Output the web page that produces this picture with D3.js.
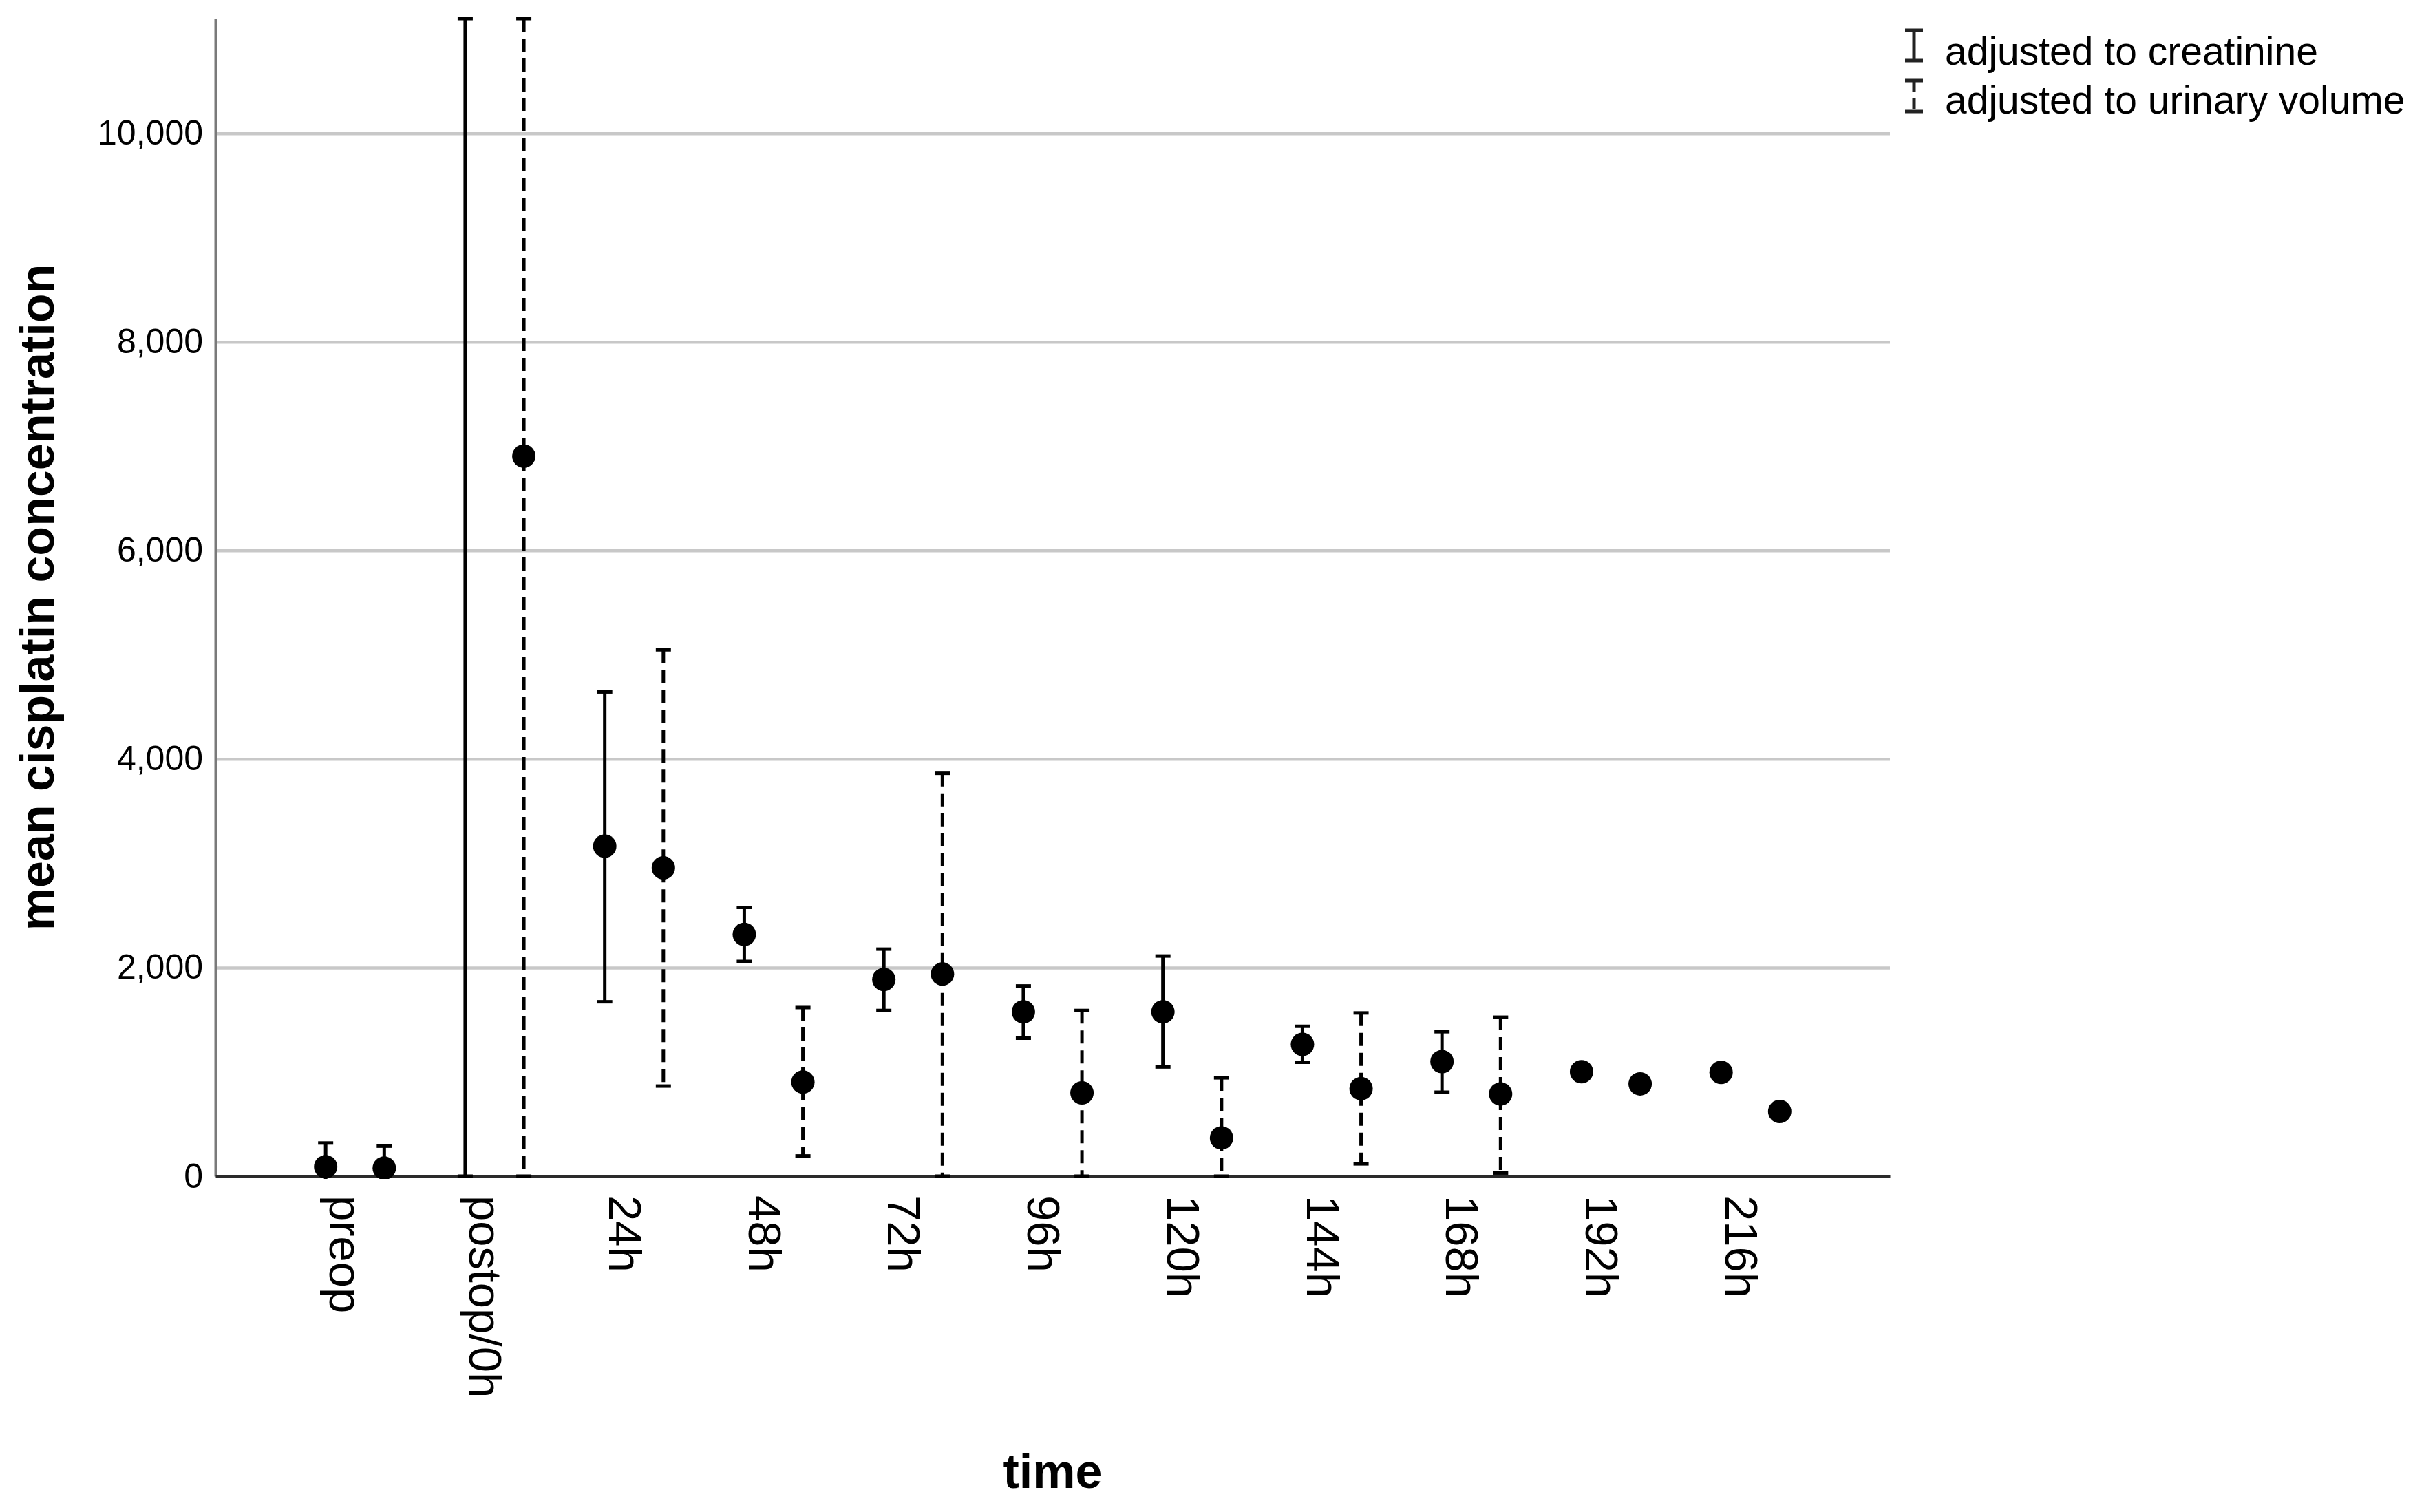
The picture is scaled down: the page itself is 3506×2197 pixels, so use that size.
<!DOCTYPE html>
<html>
<head>
<meta charset="utf-8">
<script src="https://cdn.jsdelivr.net/npm/d3@7"></script>
<style>
  body { margin: 0; background: #fff; }
  text { font-family: "Liberation Sans", Arial, sans-serif; fill: #000; }
</style>
</head>
<body>
<svg id="chart" width="3506" height="2197"></svg>
<script>
// time points
const categories = ["preop", "postop/0h", "24h", "48h", "72h", "96h", "120h", "144h", "168h", "192h", "216h"];

// adjusted to creatinine (mean, lower, upper)
const creatMean = [90, 11500, 3164, 2318, 1886, 1576, 1576, 1264, 1098, 1001, 995];
const creatLow  = [-138, 0, 1672, 2059, 1589, 1323, 1047, 1092, 805, null, null];
const creatHigh = [318, 11100, 4643, 2577, 2177, 1824, 2111, 1437, 1385, null, null];

// adjusted to urinary volume (mean, lower, upper)
const urineMean = [77, 6905, 2957, 902, 1938, 798, 367, 839, 788, 885, 620];
const urineLow  = [-134, 0, 864, 194, 0, 0, 0, 118, 30, null, null];
const urineHigh = [288, 11100, 5047, 1617, 3863, 1589, 943, 1565, 1524, null, null];

const yTicks = [0, 2000, 4000, 6000, 8000, 10000];
const yMax = 11100;

const seriesNames = ["adjusted to creatinine", "adjusted to urinary volume"];

const svg = d3.select("#chart");

const margin = {left: 313, right: 3506 - 2746, top: 27, bottom: 2197 - 1709};
const width = 3506 - margin.left - margin.right,
      height = 2197 - margin.top - margin.bottom;

const x = d3.scalePoint()
    .domain(categories)
    .range([margin.left, margin.left + width])
    .padding(1);

const y = d3.scaleLinear()
    .domain([0, yMax])
    .range([margin.top + height, margin.top]);

const offset = x.step() * 0.21;

// build rows for each series
function rows(mean, low, high, shift, dashed) {
    return categories.map((c, i) => ({
        cat: c, mean: mean[i], low: low[i], high: high[i], shift: shift, dashed: dashed
    }));
}
const series = [
    rows(creatMean, creatLow, creatHigh, -offset, false),
    rows(urineMean, urineLow, urineHigh, offset, true)
];

// clip to plot area (a bit of slack so caps on the edges stay visible)
svg.append("defs").append("clipPath")
    .attr("id", "plot-clip")
  .append("rect")
    .attr("x", margin.left)
    .attr("y", margin.top - 4)
    .attr("width", width)
    .attr("height", height + 8);

// gridlines
svg.append("g")
    .attr("class", "grid")
    .attr("transform", `translate(${margin.left},0)`)
    .call(d3.axisLeft(y).tickValues(yTicks.filter(d => d > 0)).tickSize(-width).tickFormat(""))
    .call(g => g.select(".domain").remove())
    .call(g => g.selectAll("line").attr("stroke", "#c8c8c8").attr("stroke-width", 4.5));

// y axis
svg.append("g")
    .attr("class", "y-axis")
    .attr("transform", `translate(${margin.left},0)`)
    .call(d3.axisLeft(y).tickValues(yTicks).tickFormat(d3.format(",")).tickSize(0).tickSizeOuter(0).tickPadding(18))
    .call(g => g.select(".domain").attr("stroke", "#7a7a7a").attr("stroke-width", 4))
    .call(g => g.selectAll("text")
        .attr("font-size", 50)
        .attr("font-family", "'Liberation Sans', Arial, sans-serif"));

// x axis
svg.append("g")
    .attr("class", "x-axis")
    .attr("transform", `translate(0,${margin.top + height})`)
    .call(d3.axisBottom(x).tickSize(0).tickSizeOuter(0))
    .call(g => g.select(".domain").attr("stroke", "#2a2a2a").attr("stroke-width", 4))
    .call(g => g.selectAll("text")
        .attr("font-size", 67)
        .attr("font-family", "'Liberation Sans', Arial, sans-serif")
        .attr("text-anchor", "start")
        .attr("transform", "rotate(90)")
        .attr("x", 28)
        .attr("y", 0)
        .attr("dy", "0.55em"));

// error bars and points
const plot = svg.append("g").attr("clip-path", "url(#plot-clip)");
const capW = 11;

series.forEach(s => {
    const withBars = s.filter(d => d.low !== null && d.high !== null);
    const bars = plot.append("g")
        .attr("stroke", "#000")
        .attr("stroke-width", 5)
        .attr("fill", "none");

    bars.selectAll("line.stem")
        .data(withBars)
        .enter().append("line")
        .attr("class", "stem")
        .attr("x1", d => x(d.cat) + d.shift)
        .attr("x2", d => x(d.cat) + d.shift)
        .attr("y1", d => y(d.high))
        .attr("y2", d => y(d.low))
        .attr("stroke-dasharray", d => d.dashed ? "19,10" : null);

    bars.selectAll("line.cap-hi")
        .data(withBars)
        .enter().append("line")
        .attr("class", "cap-hi")
        .attr("x1", d => x(d.cat) + d.shift - capW)
        .attr("x2", d => x(d.cat) + d.shift + capW)
        .attr("y1", d => y(d.high))
        .attr("y2", d => y(d.high));

    bars.selectAll("line.cap-lo")
        .data(withBars)
        .enter().append("line")
        .attr("class", "cap-lo")
        .attr("x1", d => x(d.cat) + d.shift - capW)
        .attr("x2", d => x(d.cat) + d.shift + capW)
        .attr("y1", d => y(d.low))
        .attr("y2", d => y(d.low));

    plot.append("g")
        .selectAll("circle")
        .data(s)
        .enter().append("circle")
        .attr("cx", d => x(d.cat) + d.shift)
        .attr("cy", d => y(d.mean))
        .attr("r", 17)
        .attr("fill", "#000");
});

// legend
const legend = svg.append("g").attr("transform", "translate(2781,0)");
const legendRows = [
    {name: seriesNames[0], top: 44, bottom: 88, base: 94, dashed: false},
    {name: seriesNames[1], top: 117, bottom: 162, base: 165, dashed: true}
];
legendRows.forEach(r => {
    const g = legend.append("g").attr("stroke", "#222").attr("stroke-width", 5);
    g.append("line").attr("x1", 0).attr("x2", 0).attr("y1", r.top).attr("y2", r.bottom)
        .attr("stroke-dasharray", r.dashed ? "17,8" : null);
    g.append("line").attr("x1", -13).attr("x2", 13).attr("y1", r.top).attr("y2", r.top);
    g.append("line").attr("x1", -13).attr("x2", 13).attr("y1", r.bottom).attr("y2", r.bottom);
    legend.append("text")
        .attr("x", 45)
        .attr("y", r.base)
        .attr("font-size", 57)
        .text(r.name);
});

// axis titles
svg.append("text")
    .attr("transform", `translate(78,${margin.top + height / 2}) rotate(-90)`)
    .attr("text-anchor", "middle")
    .attr("font-size", 70)
    .attr("font-weight", "bold")
    .text("mean cisplatin concentration");

svg.append("text")
    .attr("x", margin.left + width / 2)
    .attr("y", 2162)
    .attr("text-anchor", "middle")
    .attr("font-size", 70)
    .attr("font-weight", "bold")
    .text("time");
</script>
</body>
</html>
